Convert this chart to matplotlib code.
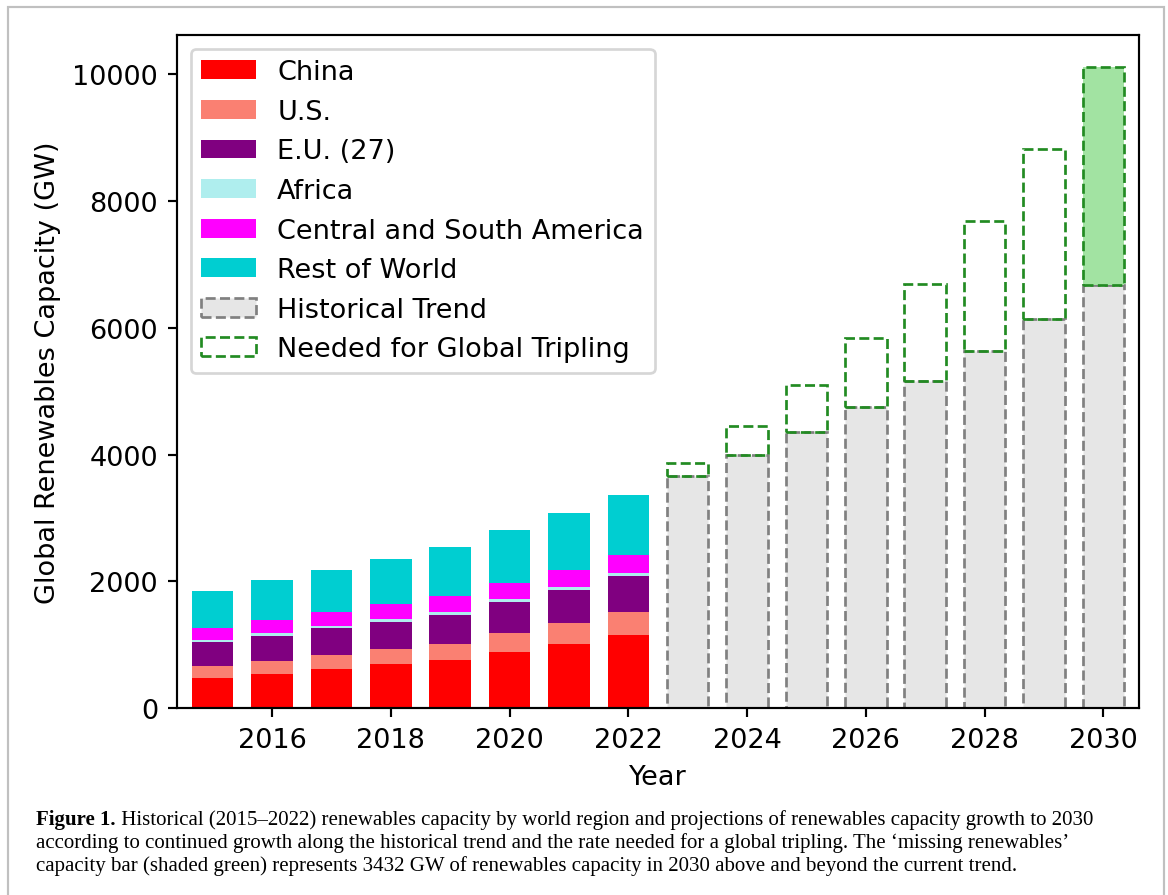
import numpy as np
import matplotlib
matplotlib.use("Agg")
from matplotlib import pyplot as plt
from matplotlib.patches import Rectangle

# historical capacity by region (GW)
years_hist = np.arange(2015, 2023)
china = [474, 537, 621, 695, 758, 890, 1016, 1158]
us = [194, 216, 221, 242, 258, 300, 327, 353]
eu = [380, 389, 417, 422, 458, 480, 516, 569]
africa = [35, 38, 42, 45, 48, 52, 55, 60]
csa = [186, 205, 216, 239, 242, 253, 266, 279]
row = [584, 632, 663, 711, 779, 837, 901, 949]

# projections (GW)
years_proj = np.arange(2023, 2031)
trend = [3670, 3997, 4360, 4750, 5155, 5629, 6134, 6672]
tripling = [3870, 4444, 5092, 5840, 6698, 7683, 8820, 10111]

regions = ['China', 'U.S.', 'E.U. (27)', 'Africa', 'Central and South America', 'Rest of World']
region_vals = [china, us, eu, africa, csa, row]
region_colors = ['red', 'salmon', 'purple', 'paleturquoise', 'magenta', 'darkturquoise']

dpi = 195
fig = plt.figure(figsize=(1168 / dpi, 896 / dpi), dpi=dpi)
ax = fig.add_axes([177 / 1168, 1 - 709.3 / 896, (1139 - 177) / 1168, (709.3 - 36) / 896])

w = 0.7
bottom = np.zeros(len(years_hist))
for name, vals, c in zip(regions, region_vals, region_colors):
    ax.bar(years_hist, vals, width=w, bottom=bottom, color=c, label=name)
    bottom += np.array(vals)

trend = np.array(trend)
tripling = np.array(tripling)
ax.bar(years_proj, trend, width=w, color='#e6e6e6', edgecolor='gray',
       linestyle='--', label='Historical Trend')
# shade the 2030 gap
ax.bar(years_proj[-1], tripling[-1] - trend[-1], width=w, bottom=trend[-1],
       color='#a2e3a2', linewidth=0)
ax.bar(years_proj, tripling - trend, width=w, bottom=trend, fill=False,
       edgecolor='forestgreen', linestyle='--', label='Needed for Global Tripling')

ax.set_xlim(2014.4, 2030.6)
ax.set_xticks(np.arange(2016, 2031, 2))
ax.set_xlabel('Year')
ax.set_ylabel('Global Renewables Capacity (GW)')
ax.legend(loc='upper left')

# caption under the chart
cap_font = ['Liberation Serif', 'DejaVu Serif']
cs = 7.72
x0 = 36 / 1168
t1 = fig.text(x0, 1 - 825 / 896, 'Figure 1.', fontsize=cs, fontweight='bold',
              family=cap_font, va='baseline')
ax.annotate(' Historical (2015\u20132022) renewables capacity by world region and projections '
            'of renewables capacity growth to 2030',
            xy=(1, 0), xycoords=t1, va='bottom', ha='left', fontsize=cs,
            family=cap_font, annotation_clip=False)
fig.text(x0, 1 - 848 / 896,
         'according to continued growth along the historical trend and the rate needed for '
         'a global tripling. The \u2018missing renewables\u2019',
         fontsize=cs, family=cap_font, va='baseline')
fig.text(x0, 1 - 871 / 896,
         'capacity bar (shaded green) represents 3432 GW of renewables capacity in 2030 '
         'above and beyond the current trend.',
         fontsize=cs, family=cap_font, va='baseline')

# page frame
fig.patches.append(Rectangle((8 / 1168, -0.05), (1164 - 8) / 1168, 1.05 - 8 / 896,
                             transform=fig.transFigure, fill=False,
                             edgecolor='#c0c0c0', linewidth=0.8))

fig.savefig('out.png', dpi=dpi)
